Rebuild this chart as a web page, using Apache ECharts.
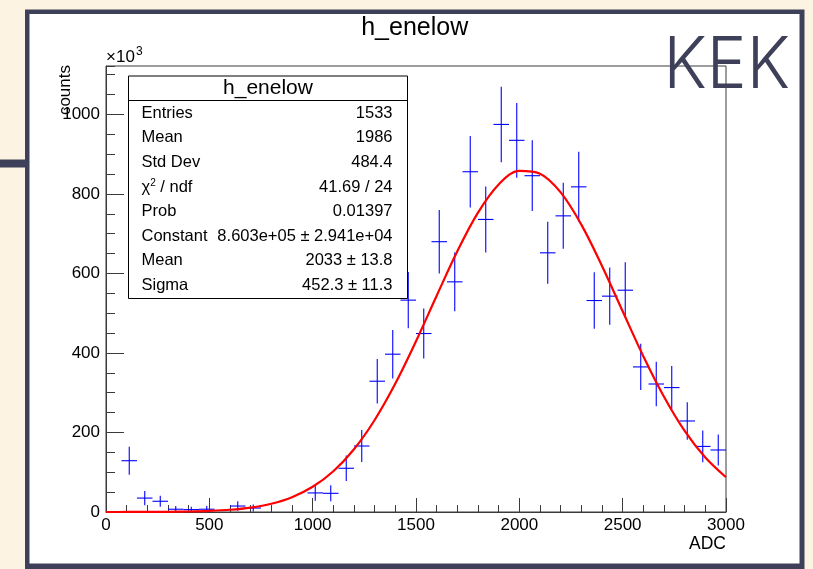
<!DOCTYPE html>
<html>
<head>
<meta charset="utf-8">
<script src="https://cdn.jsdelivr.net/npm/echarts@6/dist/echarts.min.js"></script>
<style>
  html, body { margin: 0; padding: 0; background: #fdf3e3; }
  #chart { width: 813px; height: 569px; }
</style>
</head>
<body>
<div id="chart"></div>
<script>
// ---- data (counts in units of 10^3) ----
const binWidth = 75;
const binCenters = [37.5, 112.5, 187.5, 262.5, 337.5, 412.5, 487.5, 562.5, 637.5, 712.5,
  787.5, 862.5, 937.5, 1012.5, 1087.5, 1162.5, 1237.5, 1312.5, 1387.5, 1462.5,
  1537.5, 1612.5, 1687.5, 1762.5, 1837.5, 1912.5, 1987.5, 2062.5, 2137.5, 2212.5,
  2287.5, 2362.5, 2437.5, 2512.5, 2587.5, 2662.5, 2737.5, 2812.5, 2887.5, 2962.5];
const binValues = [null, 129, 35, 27, 7, 6, 7, null, 15, 10,
  null, null, null, 48, 47, 110, 166, 329, 397, 533,
  449, 680, 579, 856, 736, 975, 935, 846, 652, 745,
  818, 532, 543, 558, 365, 322, 313, 229, 165, 156];
const binErrors = [0, 35, 18, 14, 8, 7, 8, 0, 12, 9,
  0, 0, 0, 20, 20, 32, 40, 56, 61, 71,
  63, 80, 74, 90, 83, 95, 94, 89, 78, 83,
  88, 71, 72, 70, 58, 56, 54, 47, 40, 39];
const fitADC = [0, 100, 200, 300, 400, 500, 600, 700, 800, 900, 1000, 1100, 1200, 1300, 1400, 1500,
  1600, 1700, 1800, 1900, 2000, 2100, 2200, 2300, 2400, 2500, 2600, 2700, 2800, 2900, 3000];
const fitValues = [0.03, 0.09, 0.23, 0.56, 1.3, 2.8, 5.7, 11.2, 20.9, 37.3, 63.4, 102.5, 157.8, 231.4, 323, 429.6,
  544, 656, 753, 824, 858, 851, 804, 723, 619, 505, 392, 290, 204, 137, 87.5];
const xTicks = [0, 500, 1000, 1500, 2000, 2500, 3000];
const yMax = 1122;
const statNames = ['Entries', 'Mean', 'Std Dev', 'χ2 / ndf', 'Prob', 'Constant', 'Mean', 'Sigma'];
const statValues = ['1533', '1986', '484.4', '41.69 / 24', '0.01397', '8.603e+05 ± 2.941e+04', '2033 ± 13.8', '452.3 ± 11.3'];
const histTitle = 'h_enelow';

// ---- chart ----
const FONT = "'Liberation Sans', Arial, Helvetica, sans-serif";
const AX = '#3a3a3a';
const chart = echarts.init(document.getElementById('chart'), null, { renderer: 'canvas' });

const histData = [];
for (let i = 0; i < binCenters.length; i++) {
  if (binValues[i] !== null) histData.push([binCenters[i], binValues[i], binErrors[i]]);
}
const fitData = fitADC.map((x, i) => [x, fitValues[i]]);

const statGraphics = [];
const rowY0 = 113.3, rowStep = 24.6;
statNames.forEach((name, i) => {
  const y = rowY0 + i * rowStep;
  if (name.indexOf('χ2') === 0) {
    statGraphics.push({ type: 'text', z: 101, x: 141.5, y: y, style: {
      text: '{a|χ}{s|2}{a| / ndf}', verticalAlign: 'middle', align: 'left',
      rich: { a: { fontSize: 16.5, fontFamily: FONT, fill: '#000' },
              s: { fontSize: 10, fontFamily: FONT, fill: '#000', padding: [0, 0, 7, 0] } } } });
  } else {
    statGraphics.push({ type: 'text', z: 101, x: 141.5, y: y, style: {
      text: name, fontSize: 16.5, fontFamily: FONT, fill: '#000', verticalAlign: 'middle', align: 'left' } });
  }
  statGraphics.push({ type: 'text', z: 101, x: 392.5, y: y, style: {
    text: statValues[i], fontSize: 16.5, fontFamily: FONT, fill: '#000', verticalAlign: 'middle', align: 'right' } });
});

const option = {
  backgroundColor: '#fdf3e3',
  animation: false,
  grid: { left: 106, right: 87, top: 66, bottom: 57, show: true, borderColor: AX, borderWidth: 1, backgroundColor: 'transparent' },
  xAxis: {
    type: 'value', min: 0, max: 3000, interval: 500,
    axisLine: { show: true, lineStyle: { color: AX, width: 1 } },
    axisTick: { show: true, inside: true, length: 14, lineStyle: { color: AX } },
    minorTick: { show: true, splitNumber: 5, length: 7, lineStyle: { color: AX } },
    splitLine: { show: false }, minorSplitLine: { show: false },
    axisLabel: { fontSize: 17, fontFamily: FONT, color: '#000', margin: 5,
      formatter: v => (xTicks.indexOf(v) >= 0 ? String(v) : '') }
  },
  yAxis: [{
    type: 'value', min: 0, max: yMax, interval: 200, position: 'left',
    axisLine: { show: true, lineStyle: { color: AX, width: 1 } },
    axisTick: { show: true, inside: true, length: 18, lineStyle: { color: AX } },
    splitLine: { show: false },
    axisLabel: { fontSize: 17, fontFamily: FONT, color: '#000', margin: 6, showMaxLabel: false,
      formatter: v => (v % 200 === 0 ? String(v) : '') }
  }, {
    type: 'value', min: 0, max: yMax, interval: 50, position: 'left', offset: 0,
    axisLine: { show: false },
    axisTick: { show: true, inside: true, length: 9, lineStyle: { color: AX } },
    splitLine: { show: false },
    axisLabel: { show: false }
  }],
  series: [{
    type: 'custom', xAxisIndex: 0, yAxisIndex: 0, clip: true, z: 3,
    data: histData,
    encode: { x: 0, y: 1 },
    renderItem: (params, api) => {
      const x = api.value(0), y = api.value(1), e = api.value(2);
      const pL = api.coord([x - binWidth / 2, y]);
      const pR = api.coord([x + binWidth / 2, y]);
      const pT = api.coord([x, y + e]);
      const pB = api.coord([x, Math.max(0, y - e)]);
      const st = { stroke: '#0000ff', lineWidth: 1.1 };
      return { type: 'group', children: [
        { type: 'line', shape: { x1: pL[0], y1: pL[1], x2: pR[0], y2: pR[1] }, style: st },
        { type: 'line', shape: { x1: pT[0], y1: pT[1], x2: pB[0], y2: pB[1] }, style: st }
      ] };
    }
  }, {
    type: 'line', xAxisIndex: 0, yAxisIndex: 0, z: 4,
    data: fitData, smooth: 0.35, showSymbol: false, symbol: 'none',
    lineStyle: { color: '#ff0000', width: 2.2 }
  }],
  graphic: [
    // slide frame
    { type: 'rect', z: -10, silent: true, shape: { x: 0, y: 159.5, width: 26, height: 8 }, style: { fill: '#3d4058' } },
    { type: 'rect', z: -10, silent: true, shape: { x: 25, y: 9.5, width: 779.5, height: 570 }, style: { fill: '#3d4058' } },
    { type: 'rect', z: -9, silent: true, shape: { x: 29.5, y: 14, width: 770, height: 549.5 }, style: { fill: '#ffffff' } },
    // title
    { type: 'text', z: 50, x: 414.7, y: 28.5, style: { text: histTitle, fontSize: 25, fontFamily: FONT, fill: '#000', align: 'center', verticalAlign: 'middle' } },
    // axis titles
    { type: 'text', z: 50, x: 65, y: 65, rotation: Math.PI / 2, style: { text: 'counts', fontSize: 17, fontFamily: FONT, fill: '#000', align: 'right', verticalAlign: 'middle' } },
    { type: 'text', z: 50, x: 726, y: 544, style: { text: 'ADC', fontSize: 17.5, fontFamily: FONT, fill: '#000', align: 'right', verticalAlign: 'middle' } },
    { type: 'text', z: 50, x: 106, y: 57, style: { text: '×10', fontSize: 17, fontFamily: FONT, fill: '#000', align: 'left', verticalAlign: 'middle' } },
    { type: 'text', z: 50, x: 136, y: 52, style: { text: '3', fontSize: 12, fontFamily: FONT, fill: '#000', align: 'left', verticalAlign: 'middle' } },
    // stats box
    { type: 'rect', z: 100, shape: { x: 128.5, y: 76, width: 279, height: 222.5 }, style: { fill: '#ffffff', stroke: '#000', lineWidth: 1 } },
    { type: 'line', z: 101, shape: { x1: 128.5, y1: 100.5, x2: 407.5, y2: 100.5 }, style: { stroke: '#000', lineWidth: 1 } },
    { type: 'text', z: 101, x: 268, y: 88, style: { text: histTitle, fontSize: 21, fontFamily: FONT, fill: '#000', align: 'center', verticalAlign: 'middle' } },
    ...statGraphics,
    // KEK logo
    { type: 'text', z: 120, x: 790, y: 66, scaleX: 0.93, style: { text: 'KEK', fontSize: 72, fontFamily: "Inter, 'Liberation Sans', sans-serif", fontWeight: 300, fill: '#3d4058', align: 'right', verticalAlign: 'middle' } }
  ]
};
chart.setOption(option);
</script>
</body>
</html>
